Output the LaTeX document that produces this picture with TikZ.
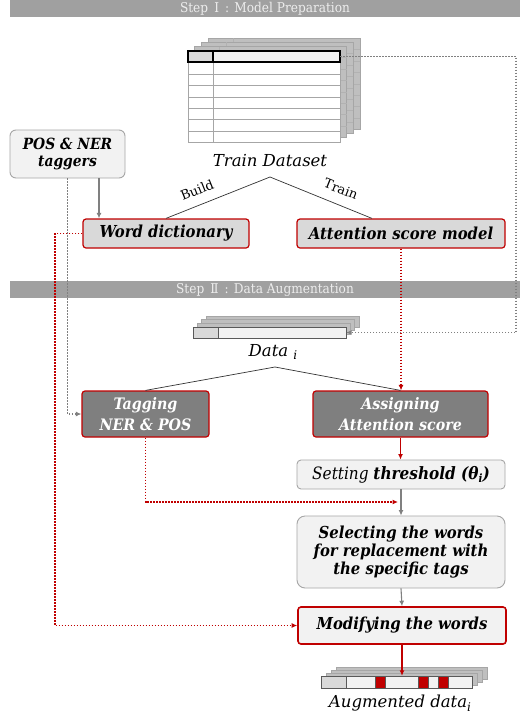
\documentclass[tikz,border=0pt]{standalone}
\usepackage{fontspec}
\setmainfont{DejaVu Serif Condensed}
\newfontfamily\capfont{DejaVu Serif}
\usetikzlibrary{arrows.meta}
\definecolor{redc}{HTML}{C00000}
\definecolor{bannerc}{HTML}{A0A0A0}
\definecolor{midgray}{HTML}{D9D9D9}
\definecolor{lightgray}{HTML}{F2F2F2}
\definecolor{darkbox}{HTML}{7F7F7F}
\definecolor{edgegray}{HTML}{A6A6A6}
\definecolor{layerc}{HTML}{BFBFBF}
\tikzset{
  banner/.style={fill=bannerc, text=white!93!black, inner sep=0pt, minimum height=17pt, minimum width=510pt, font=\fontsize{13.5}{14}\selectfont},
  redbox/.style={draw=redc, line width=1.2pt, rounded corners=3pt, fill=midgray, inner sep=0pt, align=center, font=\fontsize{16.5}{18}\selectfont\bfseries\itshape},
  darkredbox/.style={redbox, fill=darkbox, text=white, font=\fontsize{15.8}{21}\selectfont\bfseries\itshape},
  graybox/.style={draw=edgegray, line width=0.9pt, rounded corners=5pt, fill=lightgray, inner sep=0pt, align=center, font=\fontsize{16.5}{18}\selectfont\bfseries\itshape},
  tip/.style={-{Latex[length=5.5pt,width=5pt]}},
  greyarrow/.style={tip, draw=gray, line width=1.1pt},
  redarrow/.style={tip, draw=redc, line width=1.1pt},
  reddots/.style={draw=redc, line width=1.5pt, dash pattern=on 1.5pt off 1.5pt},
  greydots/.style={draw=gray, line width=1.5pt, dash pattern=on 1.5pt off 1.5pt},
  splitline/.style={draw=black!80, line width=0.7pt},
  splitlabel/.style={font=\capfont\fontsize{13}{14}\selectfont, inner sep=0pt},
  layerfill/.style={fill=layerc, draw=gray!70, line width=0.5pt},
  layergrid/.style={draw=gray!60!white, line width=0.5pt},
  caption/.style={font=\capfont\fontsize{16.5}{18}\selectfont\itshape, inner sep=0pt}
}
\begin{document}
\begin{tikzpicture}[x=1pt,y=-1pt]
\useasboundingbox (0,0) rectangle (520,718);
\fill[white] (0,0) rectangle (520,718);

% ---------- Step I ----------
\node[banner] (step1) at (265,8.5) {Step \,Ⅰ\, : Model Preparation};

% train dataset: stacked sheets
\foreach \k in {3,2,1} {
  \begin{scope}[shift={(6.7*\k,-4.3*\k)}]
    \fill[layerfill] (188,51) rectangle (340,142);
    \foreach \yy in {62,74,85,97,108,119,131} \draw[layergrid] (188,\yy) -- (340,\yy);
    \draw[layergrid] (213,51) -- (213,142);
  \end{scope}
}
\fill[white] (188,51) rectangle (340,142);
\foreach \yy in {74,85,97,108,119,131} \draw[edgegray, line width=0.7pt] (188,\yy) -- (340,\yy);
\draw[edgegray, line width=0.7pt] (213,62) -- (213,142);
\draw[edgegray, line width=0.7pt] (188,51) rectangle (340,142);
\fill[midgray] (188,51) rectangle (213,62);
\fill[lightgray] (213,51) rectangle (340,62);
\draw[black, line width=1.3pt] (188,51) rectangle (340,62) (213,51) -- (213,62);
\node[inner sep=0pt, minimum width=152pt, minimum height=91pt] (trainset) at (264,96.5) {};
\coordinate (trainhdr) at (340,56.5);
\node[caption] (trainlbl) at (270,161) {Train Dataset};

% taggers
\node[graybox, minimum width=115pt, minimum height=48pt, rounded corners=6pt, font=\fontsize{15.4}{17}\selectfont\bfseries\itshape] (taggers) at (67.5,154) {POS \& NER\\taggers};

% build / train split
\node[redbox, minimum width=166pt, minimum height=29pt] (worddict) at (166,233.5) {Word dictionary};
\node[redbox, minimum width=208pt, minimum height=29pt] (attmodel) at (401,233.5) {Attention score model};
\coordinate (split1) at (270,177);
\draw[splitline] (worddict.north) -- (split1) -- ([xshift=-29pt]attmodel.north);
\node[splitlabel, rotate=22] (buildlbl) at (197,190) {Build};
\node[splitlabel, rotate=-22] (trainlabel) at (341,189) {Train};

\draw[greyarrow] ([xshift=31.5pt]taggers.south) -- ([xshift=31.5pt]taggers.south |- worddict.north);

% ---------- Step II ----------
\node[banner] (step2) at (265,289.5) {Step \,Ⅱ\, : Data Augmentation};

% data_i: stacked rows
\foreach \k in {3,2,1} {
  \fill[layerfill] (193+4.3*\k,327-3.7*\k) rectangle (346+4.3*\k,338-3.7*\k);
}
\fill[midgray] (193,327) rectangle (218,338);
\fill[lightgray] (218,327) rectangle (346,338);
\draw[black!65, line width=0.8pt] (193,327) rectangle (346,338) (218,327) -- (218,338);
\node[inner sep=0pt, minimum width=153pt, minimum height=11pt] (datai) at (269.5,332.5) {};
\node[caption] (datailbl) at (273,352) {Data \raisebox{-0.45ex}{\fontsize{12}{13}\selectfont i}};

\node[darkredbox, minimum width=127pt, minimum height=46pt] (tagging) at (145.5,414) {Tagging\\NER \& POS};
\node[darkredbox, minimum width=175pt, minimum height=46pt] (assigning) at (400.5,414) {Assigning\\Attention score};
\coordinate (split2) at (275,367);
\draw[splitline] (tagging.north) -- (split2) -- (assigning.north);

\node[graybox, minimum width=208pt, minimum height=29pt, rounded corners=4pt, font=\fontsize{17}{18}\selectfont] (setting) at (401,474.5) {\itshape Setting \bfseries threshold (θ\raisebox{-0.4ex}{\fontsize{11.5}{12}\selectfont i})};
\node[graybox, minimum width=208pt, minimum height=72pt, rounded corners=8pt] (selecting) at (401,552) {Selecting the words\\for replacement with\\the specific tags};
\node[redbox, fill=lightgray, line width=1.6pt, minimum width=208pt, minimum height=37pt] (modifying) at (402,625.5) {Modifying the words};

% augmented data_i
\foreach \k in {3,2,1} {
  \fill[layerfill] (321+5*\k,676-3*\k) rectangle (472+5*\k,688-3*\k);
}
\fill[midgray] (321,676) rectangle (346,688);
\fill[lightgray] (346,676) rectangle (472,688);
\fill[redc] (375,676) rectangle (385,688);
\fill[redc] (418,676) rectangle (428,688);
\fill[redc] (438,676) rectangle (448,688);
\draw[black!65, line width=0.8pt] (321,676) rectangle (472,688) (346,676) -- (346,688);
\draw[black!65, line width=0.6pt] (375,676) -- (375,688) (385,676) -- (385,688) (418,676) -- (418,688) (428,676) -- (428,688) (438,676) -- (438,688) (448,676) -- (448,688);
\node[inner sep=0pt, minimum width=151pt, minimum height=12pt] (augdata) at (396.5,682) {};
\node[caption] (auglbl) at (400,703) {Augmented data\raisebox{-0.45ex}{\fontsize{12}{13}\selectfont i}};

% ---------- connectors ----------
\draw[greydots, tip] (trainhdr) -- (516,56.5) |- (datai.east);
\draw[greydots, tip] (taggers.south) |- (tagging.west);
\draw[reddots, tip] (worddict.west) -- (55,233.5) |- (modifying.west);
\draw[reddots, tip] (attmodel.south) -- (attmodel.south |- assigning.north);
\draw[redarrow] (assigning.south) -- (assigning.south |- setting.north);
\coordinate (join) at (398,502);
\draw[reddots, tip] (tagging.south) |- (join);
\draw[greyarrow] (setting.south) -- (selecting.north);
\draw[greyarrow] (selecting.south) -- (modifying.north);
\draw[redarrow] (modifying.south) -- (modifying.south |- augdata.north);
\end{tikzpicture}
\end{document}
